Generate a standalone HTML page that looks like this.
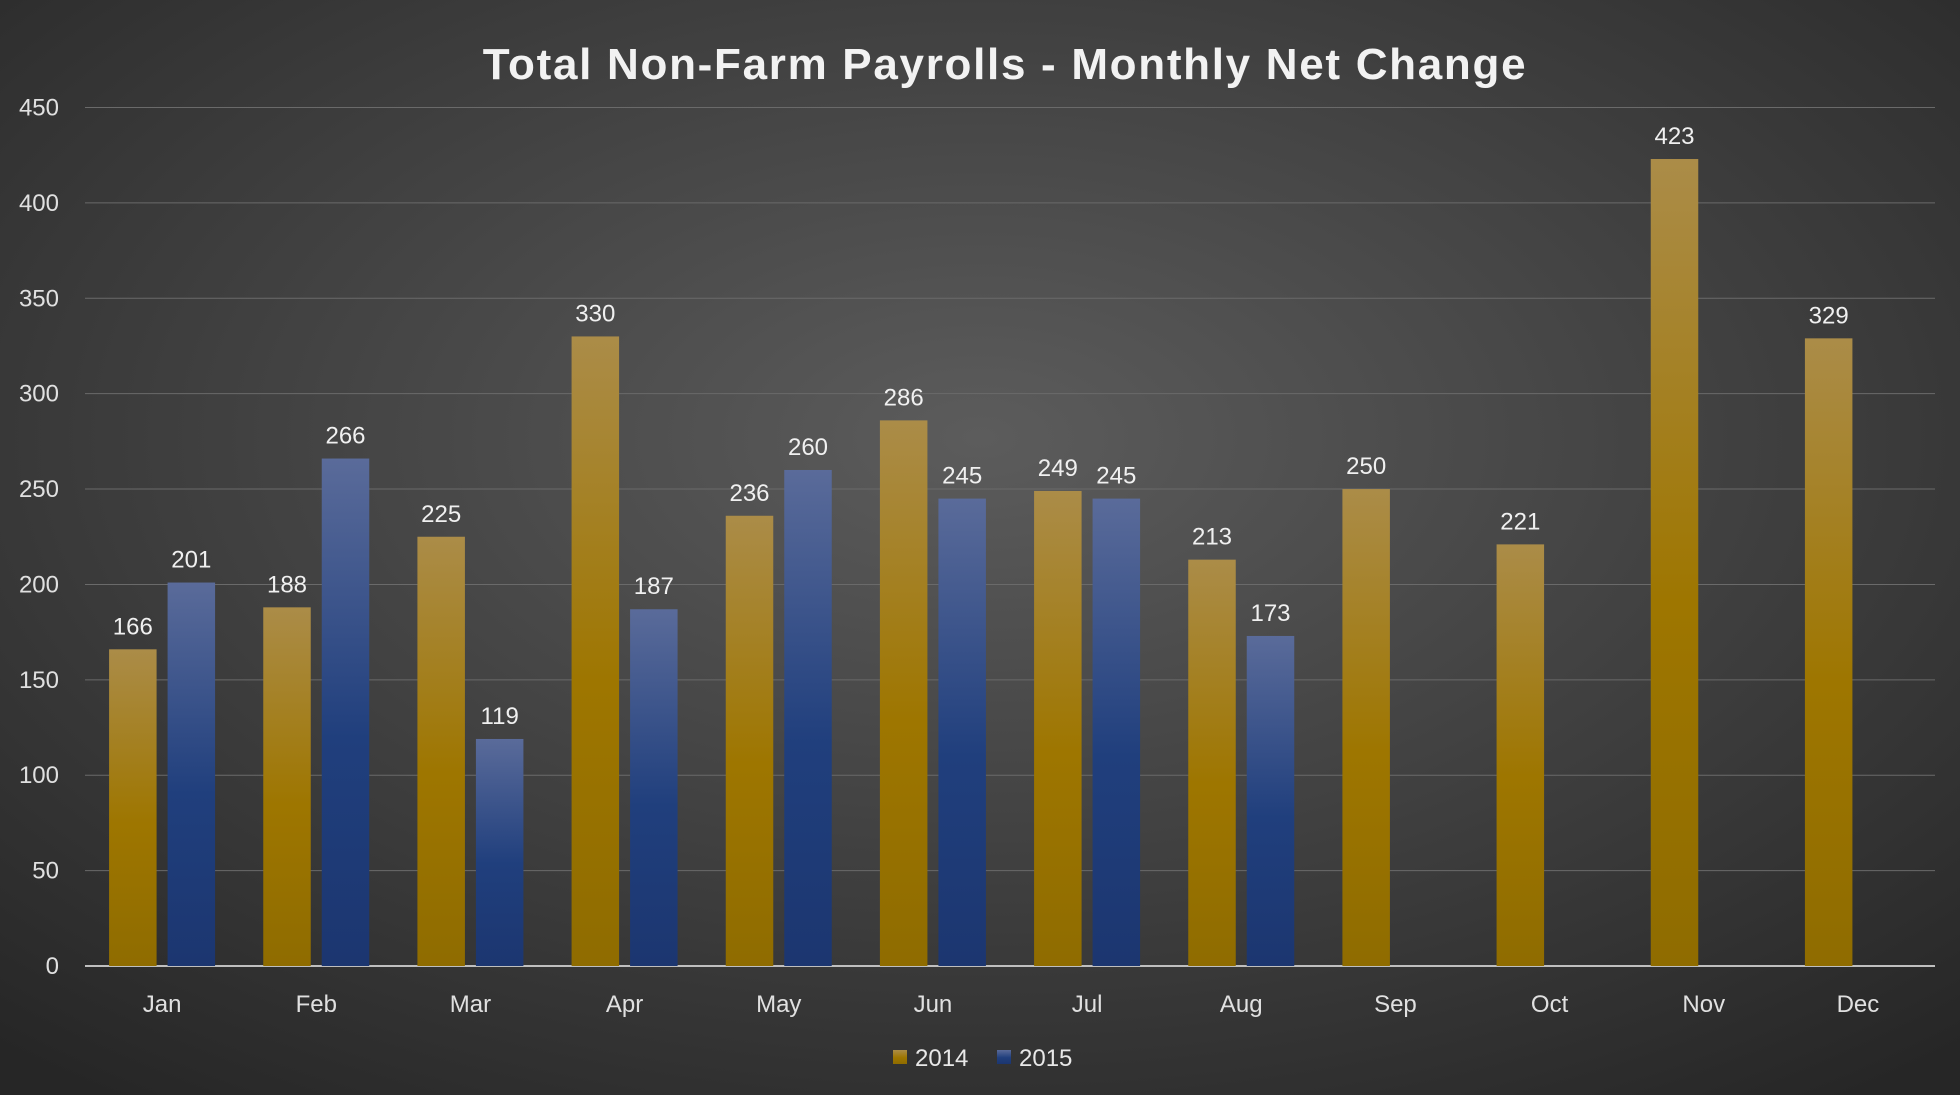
<!DOCTYPE html>
<html><head><meta charset="utf-8"><style>
html,body{margin:0;padding:0;background:#333;}
svg{display:block;font-family:"Liberation Sans","DejaVu Sans",sans-serif;}
</style></head><body>
<svg id="chart" width="1960" height="1095" viewBox="0 0 1960 1095" xmlns="http://www.w3.org/2000/svg">
<defs>
<radialGradient id="bg" cx="50%" cy="40%" r="75%">
<stop offset="0" stop-color="#5c5c5c"/><stop offset="1" stop-color="#262626"/>
</radialGradient>
<linearGradient id="g14" x1="0" y1="0" x2="0" y2="1">
<stop offset="0" stop-color="#ab8c48"/><stop offset="0.55" stop-color="#9e7600"/><stop offset="1" stop-color="#8f6c00"/>
</linearGradient>
<linearGradient id="g15" x1="0" y1="0" x2="0" y2="1">
<stop offset="0" stop-color="#5a6b9a"/><stop offset="0.55" stop-color="#203f7d"/><stop offset="1" stop-color="#1c3670"/>
</linearGradient>
</defs>
<rect x="0" y="0" width="1960" height="1095" fill="url(#bg)"/>
<text x="1005" y="79" text-anchor="middle" font-size="44" font-weight="bold" letter-spacing="1.7" fill="#f2f2f2">Total Non-Farm Payrolls - Monthly Net Change</text>
<g id="grid"></g><g id="bars"></g><g id="xlabels"></g>
<g>
<rect x="893" y="1050" width="14" height="14" fill="url(#g14)"/>
<text x="915" y="1066" font-size="24" fill="#e8e8e8">2014</text>
<rect x="997" y="1050" width="14" height="14" fill="url(#g15)"/>
<text x="1019" y="1066" font-size="24" fill="#e8e8e8">2015</text>
</g>
</svg>
<script>
const categories=["Jan","Feb","Mar","Apr","May","Jun","Jul","Aug","Sep","Oct","Nov","Dec"];
const values2014=[166,188,225,330,236,286,249,213,250,221,423,329];
const values2015=[201,266,119,187,260,245,245,173,null,null,null,null];
const yTicks=[0,50,100,150,200,250,300,350,400,450];
const NS="http://www.w3.org/2000/svg";
const plotL=85,plotR=1935,y0=966,yTop=107.5,yMax=450;
const step=(plotR-plotL)/categories.length;
const bw=47.5,gap=11;
function yS(v){return y0-(v/yMax)*(y0-yTop);}
function xC(i){return plotL+step*(i+0.5);}
function mk(tag,attrs,parent){const e=document.createElementNS(NS,tag);for(const k in attrs)e.setAttribute(k,attrs[k]);parent.appendChild(e);return e;}
const grid=document.getElementById('grid');
yTicks.forEach(t=>{
  const l=mk('line',{x1:plotL,x2:plotR,y1:yS(t),y2:yS(t),stroke:t===0?'#bfbfbf':'#6a6a6a','stroke-width':t===0?2:1},grid);
  
  
  const tx=mk('text',{x:59,y:yS(t)+8,'text-anchor':'end','font-size':24,fill:'#e0e0e0'},grid);
  tx.textContent=t;
  
  
});
const bars=document.getElementById('bars');
function drawBar(v,i,off,grad,ser){
  if(v==null)return;
  const x=xC(i)+off;
  const r=mk('rect',{x:x,y:yS(v),width:bw,height:y0-yS(v),fill:'url(#'+grad+')'},bars);
  
  
  const t=mk('text',{x:x+bw/2,y:yS(v)-15,'text-anchor':'middle','font-size':24,fill:'#f0f0f0'},bars);
  t.textContent=v;
  
  
}
values2014.forEach((v,i)=>drawBar(v,i,-gap/2-bw,'g14','2014'));
values2015.forEach((v,i)=>drawBar(v,i,gap/2,'g15','2015'));
const xl=document.getElementById('xlabels');
categories.forEach((c,i)=>{
  const t=mk('text',{x:xC(i),y:1012,'text-anchor':'middle','font-size':24,fill:'#e0e0e0'},xl);
  t.textContent=c;
  
  
});
</script>
</body></html>
